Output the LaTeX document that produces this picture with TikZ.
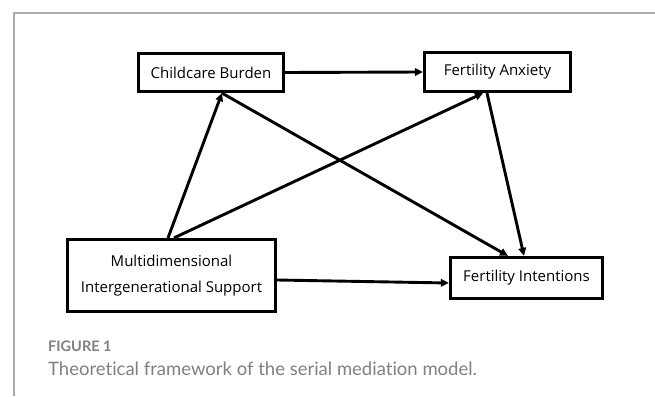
\documentclass[tikz,border=0pt]{standalone}
\usepackage{fontspec}
\usepackage{tikz}
\usetikzlibrary{arrows.meta}
\newfontfamily\boxfont{Open Sans}
\newfontfamily\capfont[Ligatures={NoCommon,NoRare,NoContextual}]{Lato}
\definecolor{capgray}{RGB}{128,128,128}
\definecolor{framegray}{RGB}{170,170,170}

\begin{document}
\begin{tikzpicture}[x=1pt, y=-1pt]
    % Styles
    \tikzstyle{var} = [rectangle, draw=black, line width=3.2pt, inner sep=0pt, align=center, fill=white, font=\boxfont\fontsize{15}{26}\selectfont]
    \tikzstyle{link} = [-{Triangle[length=8pt, width=7.5pt]}, line width=2.9pt]
    \tikzstyle{captext} = [anchor=west, inner sep=0pt, text=capgray]

    \useasboundingbox (0,0) rectangle (655,396);

    % Frame
    \draw[framegray, line width=1.5pt] (14,396) -- (14,13) -- (655,13);

    % Nodes
    \node[var, minimum width=145pt, minimum height=38pt] (CB) at (211,72.5) {Childcare Burden};
    \node[var, minimum width=146pt, minimum height=39pt] (FA) at (497.5,72) {Fertility Anxiety};
    \node[var, minimum width=208pt, minimum height=72pt] (MIS) at (171.5,275.5) {Multidimensional\\Intergenerational Support};
    \node[var, minimum width=152pt, minimum height=41pt] (FI) at (526.5,278) {Fertility Intentions};

    % Arrows
    \draw[link] (CB.east) -- (FA.west);
    \draw[link] ([xshift=-3.5pt]MIS.north) -- ([xshift=11pt]CB.south);
    \draw[link] ([xshift=2.5pt]MIS.north) -- ([xshift=-14.5pt]FA.south);
    \draw[link] ([xshift=11pt]CB.south) -- ([xshift=-18.5pt]FI.north);
    \draw[link] ([xshift=-10.5pt]FA.south) -- ([xshift=-2.5pt]FI.north);
    \draw[link] ([yshift=-4.5pt]MIS.east) -- ([yshift=-5pt]FI.west);

    % Caption
    \node[captext, font=\capfont\bfseries\fontsize{14.5}{16}\selectfont] (fig) at (48,346) {FIGURE 1};
    \node[captext, font=\capfont\fontsize{18.5}{22}\selectfont] (title) at (48,369) {Theoretical framework of the serial mediation model.};
\end{tikzpicture}
\end{document}
